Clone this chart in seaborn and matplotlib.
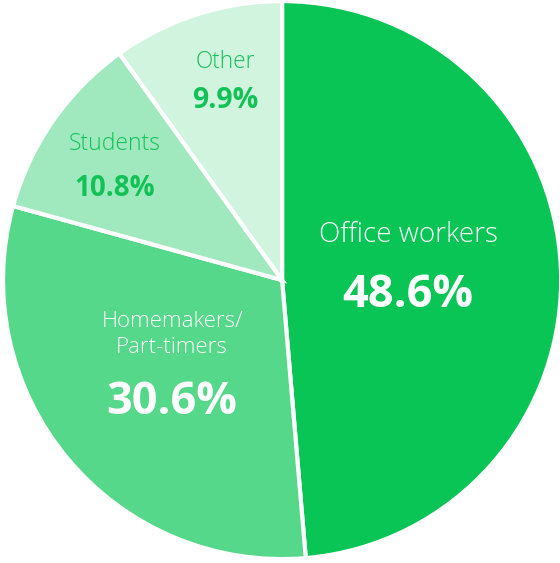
import matplotlib
matplotlib.use("Agg")
import matplotlib.pyplot as plt
import seaborn as sns

groups = ["Office workers", "Homemakers/\nPart-timers", "Students", "Other"]
shares = [48.6, 30.6, 10.8, 9.9]
colors = ["#08C555", "#55D88A", "#A0E8BD", "#D1F4DF"]
text_colors = ["white", "white", "#13C257", "#13C257"]

sns.set_theme(style="white")
plt.rcParams["font.family"] = ["Open Sans", "DejaVu Sans"]

fig = plt.figure(figsize=(5.60, 5.63), dpi=100)
ax = fig.add_axes([0, 0, 1, 1])
ax.pie(shares, colors=colors, startangle=90, counterclock=False,
       radius=1, wedgeprops=dict(edgecolor="white", linewidth=3))
ax.set_aspect("auto")
ax.set_xlim(-1.011, 0.996)
ax.set_ylim(-1.014, 1.004)
ax.axis("off")

# label placement (name xy, pct xy, name size, pct size)
layout = [
    ((0.452, 0.161), (0.452, -0.054), 20, 32.5),
    ((-0.394, -0.196), (-0.394, -0.437), 16, 32.5),
    ((-0.599, 0.487), (-0.599, 0.330), 16.5, 20),
    ((-0.204, 0.781), (-0.204, 0.645), 16.3, 20.5),
]
for name, val, tc, (nxy, pxy, ns, ps) in zip(groups, shares, text_colors, layout):
    ax.text(*nxy, name, ha="center", va="center", color=tc, fontsize=ns,
            linespacing=1.3, fontweight="light")
    ax.text(*pxy, f"{val}%", ha="center", va="center", color=tc,
            fontsize=ps, fontweight="bold")

fig.savefig("out.png", dpi=100)
